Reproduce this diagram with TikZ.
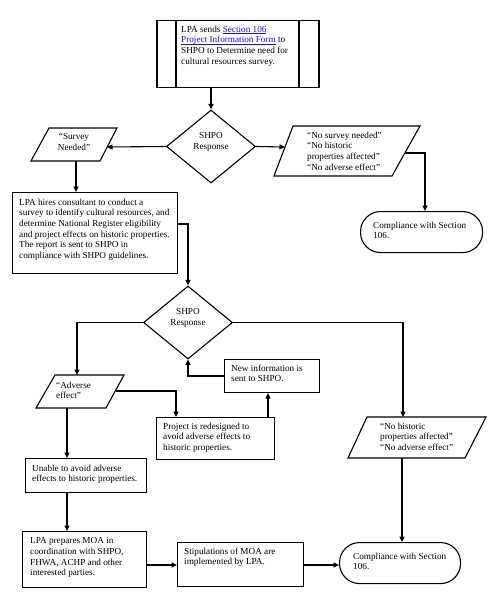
\documentclass[tikz,border=0pt]{standalone}
\usepackage{fontspec}
\setmainfont{Liberation Serif}
\usetikzlibrary{arrows.meta,shapes.geometric,calc}
\definecolor{linkblue}{RGB}{20,20,220}
\newcommand\lnk[1]{\textcolor{linkblue}{\setbox0\hbox{#1}\rlap{\rule[-1.3pt]{\wd0}{0.5pt}}\box0}}
\begin{document}
\begin{tikzpicture}[x=1pt,y=-1pt,
  every node/.style={font=\fontsize{9.2}{10.7}\selectfont},
  box/.style={draw,line width=1.1pt,rectangle,inner sep=0,anchor=north west},
  txt/.style={anchor=north west,inner sep=0,align=left},
  dia/.style={draw,line width=1.1pt,diamond,inner sep=0},
  term/.style={draw,line width=1.1pt,rectangle,rounded corners=20pt,inner sep=0,anchor=north west},
  para/.style={draw,line width=1.1pt},
  conn/.style={line width=1.1pt,-{Triangle[length=5.5pt,width=5pt]}}]
\useasboundingbox (0,0) rectangle (502,599);
% top process box
\node[box,line width=1.5pt,minimum width=162pt,minimum height=67pt] (top) at (156,20) {};
\draw[line width=1.5pt] (176,20) -- (176,87) (299,20) -- (299,87);
\node[txt] (topt) at (181,25.5) {LPA sends \lnk{Section 106}\\\lnk{Project Information Form} to\\SHPO to Determine need for\\cultural resources survey.};
% diamond 1
\node[dia,minimum width=89pt,minimum height=73pt] (d1) at (211,146.5) {};
\node[txt,anchor=north,align=center] (d1t) at (211,132.5) {SHPO\\Response};
% survey needed parallelogram
\draw[para] (49,128) -- (117,128) -- (100,161) -- (31,161) -- cycle;
\coordinate (p1e) at (107,147);
\coordinate (p1s) at (76,161);
\node[txt,anchor=north,align=center] (p1t) at (74,133.5) {“Survey\\Needed”};
% no survey needed parallelogram
\draw[para] (293,126) -- (420,126) -- (392,176) -- (274,176) -- cycle;
\coordinate (p2w) at (285,147);
\coordinate (p2e) at (405,153);
\node[txt] (p2t) at (307,131.5) {“No survey needed”\\“No historic\\properties affected”\\“No adverse effect”};
% compliance 1
\node[term,minimum width=122pt,minimum height=41pt] (c1) at (360,211) {};
\node[txt] (c1t) at (373,221.5) {Compliance with Section\\106.};
% big box
\node[box,minimum width=165pt,minimum height=81pt] (big) at (12,192) {};
\node[txt] (bigt) at (19,198.5) {LPA hires consultant to conduct a\\survey to identify cultural resources, and\\determine National Register eligibility\\and project effects on historic properties.\\The report is sent to SHPO in\\compliance with SHPO guidelines.};
% diamond 2
\node[dia,minimum width=89pt,minimum height=73pt] (d2) at (188,322.5) {};
\node[txt,anchor=north,align=center] (d2t) at (188,308.5) {SHPO\\Response};
% adverse effect parallelogram
\draw[para] (55,375) -- (124,375) -- (106,408) -- (36,408) -- cycle;
\coordinate (p3n) at (77,375);
\coordinate (p3e) at (116,391);
\coordinate (p3s) at (67,408);
\node[txt] (p3t) at (56,381.5) {“Adverse\\effect”};
% new information box
\node[box,minimum width=95pt,minimum height=33pt] (new) at (224,359) {};
\node[txt] (newt) at (231,364.5) {New information is\\sent to SHPO.};
% project redesigned box
\node[box,minimum width=118pt,minimum height=42pt] (proj) at (156,417) {};
\node[txt] (projt) at (163,422.5) {Project is redesigned to\\avoid adverse effects to\\historic properties.};
% no historic properties parallelogram
\draw[para] (367,417) -- (486,417) -- (465,458) -- (348,458) -- cycle;
\coordinate (p4n) at (403,417);
\coordinate (p4s) at (402,458);
\node[txt] (p4t) at (380,422.5) {“No historic\\properties affected”\\“No adverse effect”};
% unable box
\node[box,minimum width=121pt,minimum height=34pt] (unable) at (25,458) {};
\node[txt] (unablet) at (32,464.5) {Unable to avoid adverse\\effects to historic properties.};
% LPA prepares MOA
\node[box,minimum width=124pt,minimum height=56pt] (moa) at (22,531) {};
\node[txt] (moat) at (30,537.5) {LPA prepares MOA in\\coordination with SHPO,\\FHWA, ACHP and other\\interested parties.};
% stipulations
\node[box,minimum width=126pt,minimum height=44pt] (stip) at (177,542) {};
\node[txt] (stipt) at (184,547.5) {Stipulations of MOA are\\implemented by LPA.};
% compliance 2
\node[term,minimum width=121pt,minimum height=41pt] (c2) at (339,542) {};
\node[txt] (c2t) at (353,552.5) {Compliance with Section\\106.};
% connectors
\draw[conn] (top.south -| d1.north) -- (d1.north);
\draw[conn] (d1.west) -- (p1e);
\draw[conn] (d1.east) -- (p2w);
\draw[conn] (p2e) -- (p2e -| 425,0) -- (c1.north -| 425,0);
\draw[conn] (p1s) -- (p1s |- big.north);
\draw[conn] (big.east |- 0,224) -- (d2.north |- 0,224) -- (d2.north);
\draw[conn] (d2.west) -- (d2.west -| p3n) -- (p3n);
\draw[conn] (d2.east) -- (d2.east -| p4n) -- (p4n);
\draw[conn] (new.west |- 0,376) -- (d2.south |- 0,376) -- (d2.south);
\draw[conn] (p3e) -- (176,391) -- (proj.north -| 176,0);
\draw[conn] (proj.north -| 268,0) -- (new.south -| 268,0);
\draw[conn] (p3s) -- (p3s |- unable.north);
\draw[conn] (unable.south -| 67,0) -- (moa.north -| 67,0);
\draw[conn] (moa.east |- 0,565) -- (stip.west |- 0,565);
\draw[conn] (stip.east |- 0,565) -- (c2.west |- 0,565);
\draw[conn] (p4s) -- (p4s |- c2.north);
\end{tikzpicture}
\end{document}
